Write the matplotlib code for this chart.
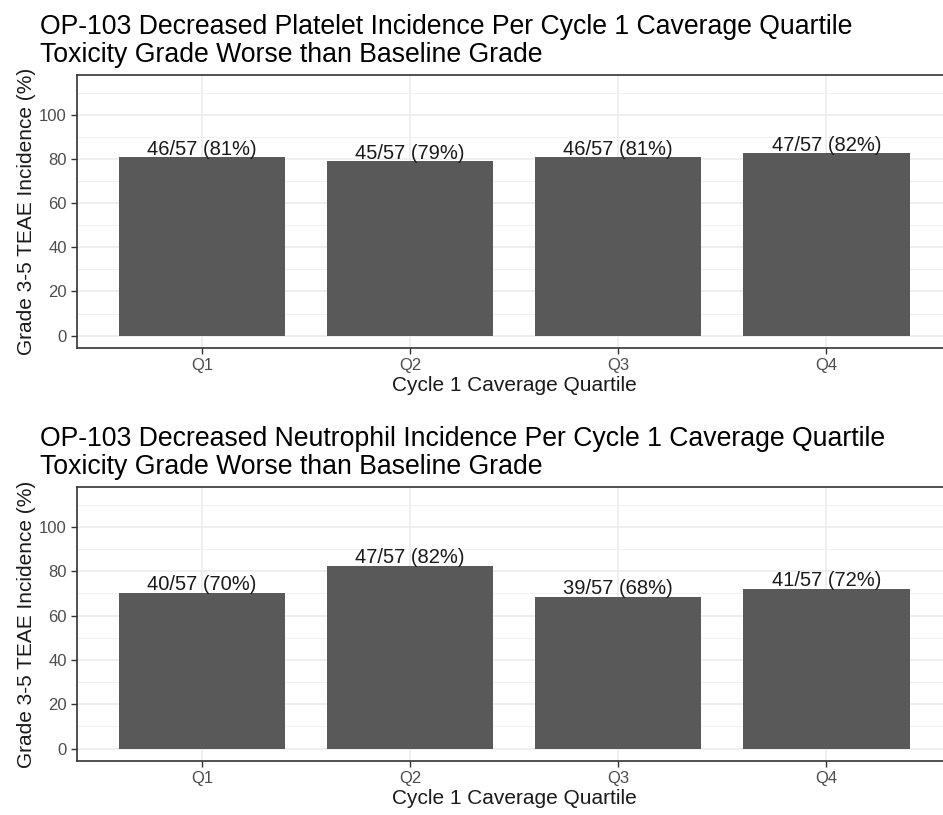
import matplotlib
matplotlib.use('Agg')
import matplotlib.pyplot as plt
import numpy as np

plt.rcParams['font.family'] = ['Liberation Sans', 'DejaVu Sans']

quartiles = ['Q1', 'Q2', 'Q3', 'Q4']
n_total = [57, 57, 57, 57]
platelet_n = [46, 45, 46, 47]
neutro_n = [40, 47, 39, 41]

titles = ['OP-103 Decreased Platelet Incidence Per Cycle 1 Caverage Quartile\n'
          'Toxicity Grade Worse than Baseline Grade',
          'OP-103 Decreased Neutrophil Incidence Per Cycle 1 Caverage Quartile\n'
          'Toxicity Grade Worse than Baseline Grade']

fig = plt.figure(figsize=(9.43, 8.15), dpi=100)

# axes rectangles (left, bottom, width, height) in figure fractions
rects = [[0.0817, 0.573, 0.927, 0.335],
         [0.0817, 0.0663, 0.927, 0.3362]]

for rect, counts, title in zip(rects, [platelet_n, neutro_n], titles):
    ax = fig.add_axes(rect)
    x = np.arange(1, len(quartiles) + 1)
    pct = [100.0 * c / t for c, t in zip(counts, n_total)]

    ax.bar(x, pct, width=0.8, color='#595959', zorder=3)
    for xi, c, t, p in zip(x, counts, n_total, pct):
        ax.text(xi, p - 0.6, '%d/%d (%d%%)' % (c, t, round(p)),
                ha='center', va='bottom', fontsize=14.5, color='#1a1a1a',
                zorder=4)

    ax.set_xlim(0.4, 4.6)
    ax.set_ylim(-5.6, 118)
    ax.set_xticks(x)
    ax.set_xticklabels(quartiles)
    ax.set_yticks([0, 20, 40, 60, 80, 100])
    ax.set_yticks([10, 30, 50, 70, 90, 110], minor=True)
    ax.tick_params(axis='both', which='major', colors='#333333',
                   labelcolor='#4d4d4d', labelsize=12, length=4, width=1)
    ax.tick_params(axis='y', which='minor', length=0)
    ax.grid(True, which='major', color='#ebebeb', linewidth=1.1, zorder=0)
    ax.grid(True, which='minor', axis='y', color='#f2f2f2', linewidth=0.8,
            zorder=0)
    for sp in ax.spines.values():
        sp.set_color('#333333')
        sp.set_linewidth(1.2)

    ax.set_xlabel('Cycle 1 Caverage Quartile', fontsize=15, color='#1a1a1a',
                  labelpad=2)
    ax.set_ylabel('Grade 3-5 TEAE Incidence (%)', fontsize=15,
                  color='#1a1a1a', labelpad=2)
    ax.set_title(title, loc='left', fontsize=19.2, color='black', pad=9,
                 x=-0.042, ha='left', linespacing=1.12)

fig.savefig('out.png', dpi=100)
